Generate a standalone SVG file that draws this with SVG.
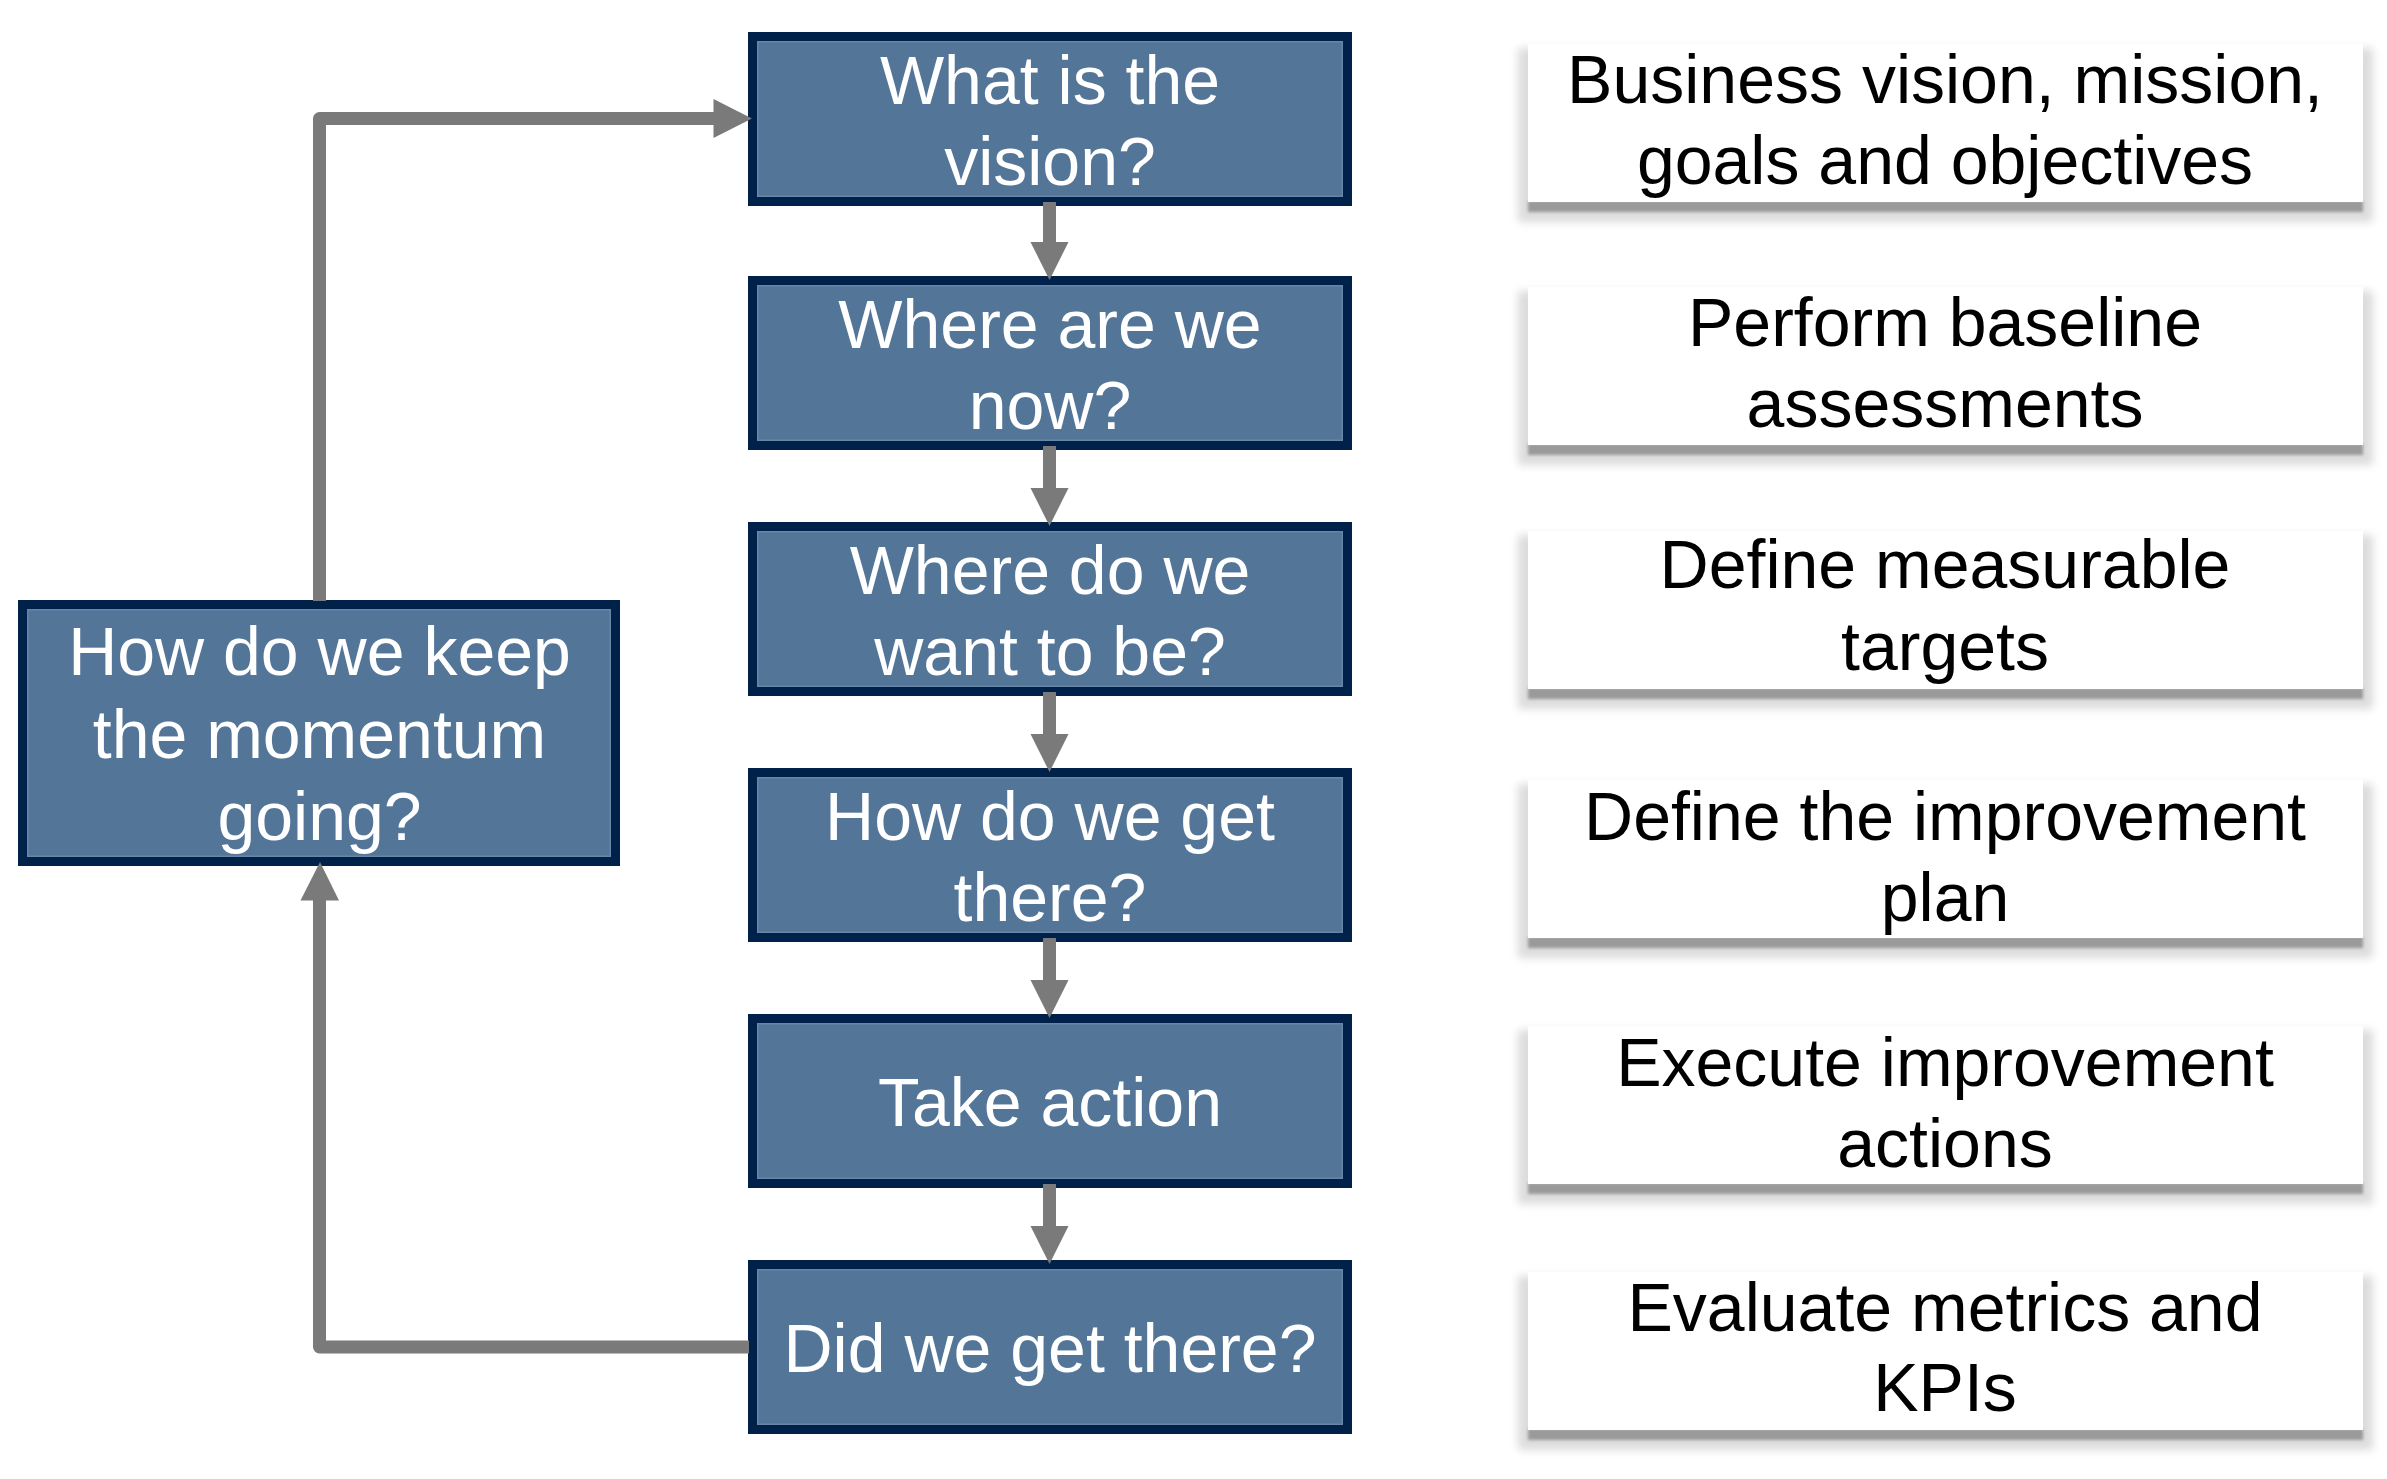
<svg xmlns="http://www.w3.org/2000/svg" width="2387" height="1479" viewBox="0 0 2387 1479">
<defs>
<style>
.q{fill:#537598;stroke:#00224a;stroke-width:9}
.qi{fill:none;stroke:#6886a8;stroke-width:1.5}
.qt{font-family:"Liberation Sans",Arial,sans-serif;font-size:68px;fill:#ffffff;text-anchor:middle}
.a{font-family:"Liberation Sans",Arial,sans-serif;font-size:68px;fill:#000000;text-anchor:middle}
.body{fill:#ffffff}
.sh1{fill:#dcdcdc;filter:url(#bl4)}
.sh2{fill:#9a9a9a;filter:url(#bl1)}
.ln{fill:none;stroke:#7a7a7a;stroke-width:13;stroke-linejoin:round}
.ah{fill:#7a7a7a}
</style>
<filter id="bl4" x="-5%" y="-20%" width="110%" height="140%"><feGaussianBlur stdDeviation="4"/></filter>
<filter id="bl1" x="-5%" y="-50%" width="110%" height="200%"><feGaussianBlur stdDeviation="1.5"/></filter>
</defs>
<rect width="2387" height="1479" fill="#ffffff"/>

<g id="q1"><rect class="q" x="752.5" y="36.5" width="595" height="165"/><rect class="qi" x="757.75" y="41.75" width="584.5" height="154.5"/><text class="qt" x="1050" y="103.5">What is the</text><text class="qt" x="1050" y="185">vision?</text></g>
<g id="q2"><rect class="q" x="752.5" y="280.5" width="595" height="165"/><rect class="qi" x="757.75" y="285.75" width="584.5" height="154.5"/><text class="qt" x="1050" y="347.5">Where are we</text><text class="qt" x="1050" y="429">now?</text></g>
<g id="q3"><rect class="q" x="752.5" y="526.5" width="595" height="165"/><rect class="qi" x="757.75" y="531.75" width="584.5" height="154.5"/><text class="qt" x="1050" y="593.5">Where do we</text><text class="qt" x="1050" y="675">want to be?</text></g>
<g id="q4"><rect class="q" x="752.5" y="772.5" width="595" height="165"/><rect class="qi" x="757.75" y="777.75" width="584.5" height="154.5"/><text class="qt" x="1050" y="839.5">How do we get</text><text class="qt" x="1050" y="921">there?</text></g>
<g id="q5"><rect class="q" x="752.5" y="1018.5" width="595" height="165"/><rect class="qi" x="757.75" y="1023.75" width="584.5" height="154.5"/><text class="qt" x="1050" y="1126">Take action</text></g>
<g id="q6"><rect class="q" x="752.5" y="1264.5" width="595" height="165"/><rect class="qi" x="757.75" y="1269.75" width="584.5" height="154.5"/><text class="qt" x="1050" y="1372">Did we get there?</text></g>
<g id="keep"><rect class="q" x="22.5" y="604.5" width="593" height="257"/><rect class="qi" x="27.75" y="609.75" width="582.5" height="246.5"/><text class="qt" x="319.5" y="675">How do we keep</text><text class="qt" x="319.5" y="757.5">the momentum</text><text class="qt" x="319.5" y="840">going?</text></g>

<g id="a1"><rect class="sh1" x="1518" y="48" width="855" height="174"/><rect class="sh2" x="1528" y="201" width="835" height="11"/><rect class="body" x="1528" y="44" width="835" height="158"/><text class="a" x="1945" y="103">Business vision, mission,</text><text class="a" x="1945" y="184">goals and objectives</text></g>
<g id="a2"><rect class="sh1" x="1518" y="291" width="855" height="174"/><rect class="sh2" x="1528" y="444" width="835" height="11"/><rect class="body" x="1528" y="287" width="835" height="158"/><text class="a" x="1945" y="346">Perform baseline</text><text class="a" x="1945" y="427">assessments</text></g>
<g id="a3"><rect class="sh1" x="1518" y="535" width="855" height="174"/><rect class="sh2" x="1528" y="688" width="835" height="11"/><rect class="body" x="1528" y="531" width="835" height="158"/><text class="a" x="1945" y="588">Define measurable</text><text class="a" x="1945" y="670">targets</text></g>
<g id="a4"><rect class="sh1" x="1518" y="784" width="855" height="174"/><rect class="sh2" x="1528" y="937" width="835" height="11"/><rect class="body" x="1528" y="780" width="835" height="158"/><text class="a" x="1945" y="840">Define the improvement</text><text class="a" x="1945" y="921">plan</text></g>
<g id="a5"><rect class="sh1" x="1518" y="1030" width="855" height="174"/><rect class="sh2" x="1528" y="1183" width="835" height="11"/><rect class="body" x="1528" y="1026" width="835" height="158"/><text class="a" x="1945" y="1086">Execute improvement</text><text class="a" x="1945" y="1167">actions</text></g>
<g id="a6"><rect class="sh1" x="1518" y="1276" width="855" height="174"/><rect class="sh2" x="1528" y="1429" width="835" height="11"/><rect class="body" x="1528" y="1272" width="835" height="158"/><text class="a" x="1945" y="1331">Evaluate metrics and</text><text class="a" x="1945" y="1411">KPIs</text></g>

<g id="connectors">
<path class="ln" d="M1049.5 202 V243"/><polygon class="ah" points="1030.5,242 1049.5,280 1068.5,242"/>
<path class="ln" d="M1049.5 446 V489"/><polygon class="ah" points="1030.5,488 1049.5,526 1068.5,488"/>
<path class="ln" d="M1049.5 692 V735"/><polygon class="ah" points="1030.5,734 1049.5,772 1068.5,734"/>
<path class="ln" d="M1049.5 938 V981"/><polygon class="ah" points="1030.5,980 1049.5,1018 1068.5,980"/>
<path class="ln" d="M1049.5 1184 V1227"/><polygon class="ah" points="1030.5,1226 1049.5,1264 1068.5,1226"/>
<path class="ln" d="M319.5 601 V118.5 H715"/><polygon class="ah" points="713.5,99 752,118.5 713.5,138"/>
<path class="ln" d="M749 1347 H319.5 V899"/><polygon class="ah" points="300.5,900.5 320,862 339,900.5"/>
</g>
</svg>
